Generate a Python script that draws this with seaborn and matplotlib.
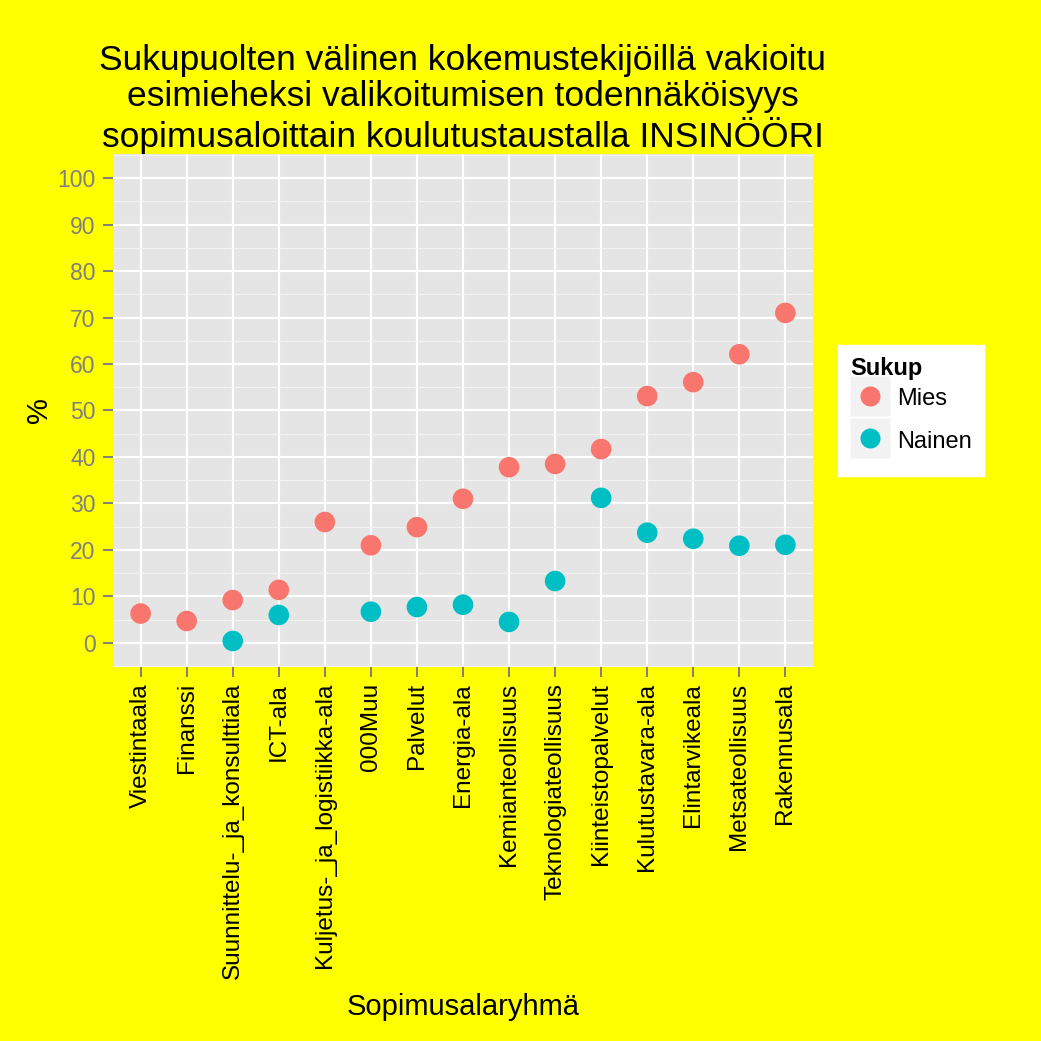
import matplotlib
matplotlib.use("Agg")
import matplotlib.pyplot as plt
import seaborn as sns
import pandas as pd
import numpy as np
from matplotlib.ticker import MultipleLocator
from matplotlib.lines import Line2D

categories = ["Viestintaala", "Finanssi", "Suunnittelu-_ja_konsulttiala", "ICT-ala",
              "Kuljetus-_ja_logistiikka-ala", "000Muu", "Palvelut", "Energia-ala",
              "Kemianteollisuus", "Teknologiateollisuus", "Kiinteistopalvelut",
              "Kulutustavara-ala", "Elintarvikeala", "Metsateollisuus", "Rakennusala"]
mies = [6.3, 4.7, 9.2, 11.4, 26.0, 21.0, 24.9, 31.0, 37.8, 38.5, 41.7, 53.1, 56.1, 62.1, 71.0]
nainen = [None, None, 0.4, 6.0, None, 6.7, 7.7, 8.2, 4.5, 13.3, 31.2, 23.7, 22.4, 20.9, 21.1]
groups = ["Mies", "Nainen"]
colors = ["#F8766D", "#00BFC4"]

rows = []
for c, m, n in zip(categories, mies, nainen):
    rows.append({"Sopimusalaryhmä": c, "%": m, "Sukup": "Mies"})
    if n is not None:
        rows.append({"Sopimusalaryhmä": c, "%": n, "Sukup": "Nainen"})
df = pd.DataFrame(rows)
df["x"] = df["Sopimusalaryhmä"].map({c: i for i, c in enumerate(categories)})

plt.rcParams['font.family'] = ['Liberation Sans', 'DejaVu Sans']
W = 1041
fig = plt.figure(figsize=(W / 100, W / 100), dpi=100, facecolor="#FFFF00")
ax = fig.add_axes([113 / W, 1 - 667 / W, 700 / W, 513 / W])
ax.set_facecolor("#E5E5E5")

sns.scatterplot(data=df, x="x", y="%", hue="Sukup", hue_order=groups,
                palette=colors, s=220, edgecolor="none", ax=ax, legend=False, zorder=3)

ax.set_xlim(-0.6, len(categories) - 1 + 0.6)
ax.set_ylim(-5.2, 105.2)
ax.set_xticks(range(len(categories)))
ax.set_xticklabels(categories, rotation=90, fontsize=17.5, color="black")
ax.yaxis.set_major_locator(MultipleLocator(10))
ax.yaxis.set_minor_locator(MultipleLocator(5))
ax.tick_params(axis="y", labelsize=16.5, labelcolor="#7F7F7F", color="#7F7F7F", length=7.5, width=1.4, pad=5)
ax.tick_params(axis="x", color="#7F7F7F", length=7.5, width=1.4, pad=4)
ax.tick_params(axis="y", which="minor", length=0)
ax.grid(which="major", color="white", linewidth=1.6, zorder=0)
ax.grid(which="minor", axis="y", color="#F2F2F2", linewidth=0.8, zorder=0)
ax.set_axisbelow(True)
for s in ax.spines.values():
    s.set_visible(False)

ax.set_xlabel("Sopimusalaryhmä", fontsize=21, labelpad=10)
ax.set_ylabel("%", fontsize=21, labelpad=3)
ax.set_title("Sukupuolten välinen kokemustekijöillä vakioitu\nesimieheksi valikoitumisen todennäköisyys\nsopimusaloittain koulutustaustalla INSINÖÖRI",
             fontsize=25.5, linespacing=1.12, pad=4)

handles = [(Line2D([0], [0], marker="s", linestyle="none", markersize=28.5,
                   markerfacecolor="#F2F2F2", markeredgecolor="none"),
            Line2D([0], [0], marker="o", linestyle="none", markersize=14.4,
                   markerfacecolor=c, markeredgecolor="none")) for c in colors]
leg = ax.legend(handles, groups, title="Sukup", loc="center left",
                bbox_to_anchor=(1 + 25 / 700, 0.5), frameon=True, fontsize=17,
                title_fontproperties={"weight": "bold", "size": 17},
                facecolor="white", edgecolor="white", fancybox=False,
                handletextpad=0.3, borderpad=0.5, labelspacing=0.1,
                handlelength=1.7, handleheight=2.23, borderaxespad=0)
leg._legend_box.align = "left"
leg.get_frame().set_alpha(1)
for t in leg.get_texts():
    t.set_y(4)

fig.savefig("out.png", dpi=100, facecolor=fig.get_facecolor())
